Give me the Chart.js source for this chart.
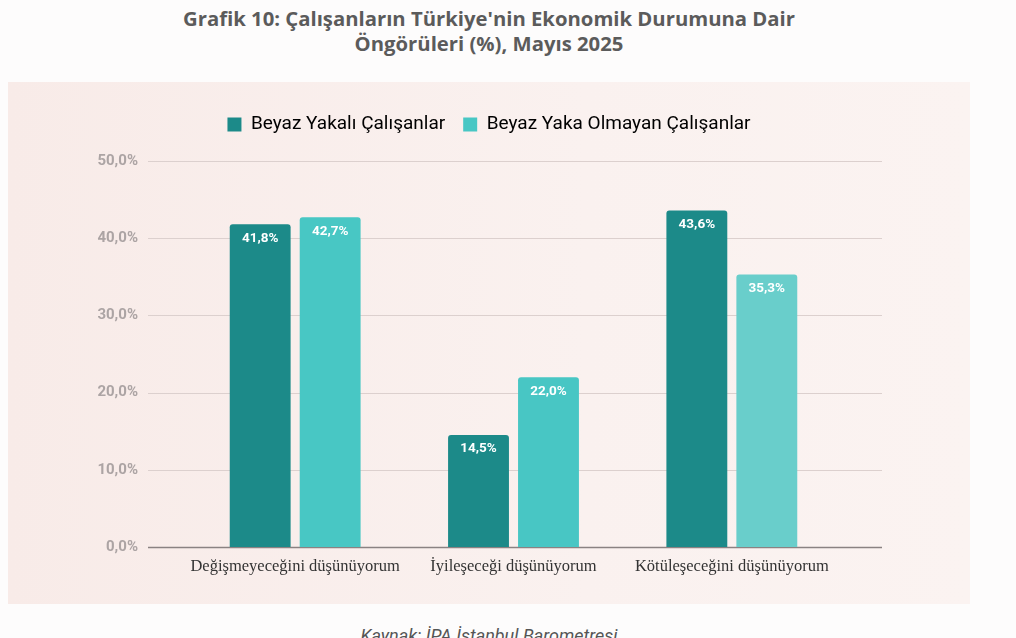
<!DOCTYPE html>
<html>
<head>
<meta charset="utf-8">
<script src="https://cdn.jsdelivr.net/npm/chart.js@4.4.1/dist/chart.umd.min.js"></script>
<style>
  html, body { margin: 0; padding: 0; background: #fdfcfc; overflow: hidden; }
  body { width: 1016px; height: 638px; position: relative; }
  #title {
    position: absolute; left: 0; top: 6px; width: 978px; text-align: center;
    font-family: "Open Sans", Lato, sans-serif; font-weight: 700; font-size: 20.3px;
    line-height: 25px; color: #5b5b5b;
  }
  #panel {
    position: absolute; left: 8px; top: 82px; width: 962px; height: 522px;
    background: linear-gradient(90deg, #f8ebe8 0%, #faf1ef 60%, #fbf3f1 100%);
  }
  #source {
    position: absolute; left: 0; top: 625px; width: 978px; text-align: center;
    font-family: Roboto, sans-serif; font-style: italic; font-size: 18px; color: #555;
  }
</style>
</head>
<body>
<div id="title">Grafik 10: Çalışanların Türkiye'nin Ekonomik Durumuna Dair<br>Öngörüleri (%), Mayıs 2025</div>
<div id="panel"><canvas id="chart" width="962" height="522"></canvas></div>
<div id="source">Kaynak: İPA İstanbul Barometresi</div>
<script>
const categories = ["Değişmeyeceğini düşünüyorum", "İyileşeceği düşünüyorum", "Kötüleşeceğini düşünüyorum"];
const beyazYakali = [41.8, 14.5, 43.6];
const beyazYakaOlmayan = [42.7, 22.0, 35.3];
const seriesNames = ["Beyaz Yakalı Çalışanlar", "Beyaz Yaka Olmayan Çalışanlar"];
const yTicks = [0, 10, 20, 30, 40, 50];

function fmt(v) {
  return v.toFixed(1).replace(".", ",") + "%";
}

// horizontal grid + base line, wider than the bar area
const gridPlugin = {
  id: "wideGrid",
  beforeDatasetsDraw(chart) {
    const ctx = chart.ctx;
    const y = chart.scales.y;
    const left = chart.chartArea.left - 38;
    const right = chart.chartArea.right + 41;
    ctx.save();
    y.ticks.forEach(t => {
      const py = Math.round(y.getPixelForValue(t.value)) + 0.5;
      ctx.beginPath();
      if (t.value === 0) {
        ctx.strokeStyle = "#8a8282";
        ctx.lineWidth = 1.6;
      } else {
        ctx.strokeStyle = "#dcd0ce";
        ctx.lineWidth = 1;
      }
      ctx.moveTo(left, py);
      ctx.lineTo(right, py);
      ctx.stroke();
    });
    ctx.restore();
  }
};

// extra room under the legend, and center it on the whole canvas
const legendGap = {
  id: "legendGap",
  beforeInit(chart) {
    const fit = chart.legend.fit;
    chart.legend.fit = function () {
      fit.call(this);
      this.height += 17;
    };
  },
  afterLayout(chart) {
    const l = chart.legend;
    l.left = 0;
    l.right = chart.width;
    l.width = chart.width;
    l.adjustHitBoxes();
  }
};

// value labels inside bar tops
const labelPlugin = {
  id: "barLabels",
  afterDatasetsDraw(chart) {
    const ctx = chart.ctx;
    ctx.save();
    ctx.font = "bold 13.5px Roboto, sans-serif";
    ctx.fillStyle = "#ffffff";
    ctx.textAlign = "center";
    ctx.textBaseline = "middle";
    chart.data.datasets.forEach((ds, i) => {
      chart.getDatasetMeta(i).data.forEach((bar, j) => {
        ctx.fillText(fmt(ds.data[j]), bar.x, bar.y + 14);
      });
    });
    ctx.restore();
  }
};

new Chart(document.getElementById("chart"), {
  type: "bar",
  data: {
    labels: categories,
    datasets: [
      {
        label: seriesNames[0],
        data: beyazYakali,
        backgroundColor: "#1c8a89",
        borderRadius: { topLeft: 3, topRight: 3 },
        borderSkipped: "bottom"
      },
      {
        label: seriesNames[1],
        data: beyazYakaOlmayan,
        backgroundColor: ["#48c7c4", "#48c6c4", "#69cecb"],
        borderRadius: { topLeft: 3, topRight: 3 },
        borderSkipped: "bottom"
      }
    ]
  },
  options: {
    responsive: false,
    animation: false,
    layout: { padding: { left: 88, right: 129, top: 15, bottom: 24 } },
    categoryPercentage: 0.641,
    barPercentage: 0.87,
    plugins: {
      legend: {
        position: "top",
        labels: {
          boxWidth: 14,
          boxHeight: 14,
          padding: 18,
          color: "#555",
          font: { family: "Roboto, sans-serif", size: 19 },
          generateLabels(chart) {
            return chart.data.datasets.map((ds, i) => ({
              text: ds.label,
              fillStyle: i === 0 ? "#1c8a89" : "#48c7c4",
              strokeStyle: "transparent",
              lineWidth: 0,
              datasetIndex: i
            }));
          }
        }
      },
      tooltip: { enabled: false }
    },
    scales: {
      x: {
        afterFit(scale) { scale.height = 30; },
        grid: { display: false, drawTicks: false },
        border: { display: false },
        ticks: {
          color: "#333",
          padding: 10,
          maxRotation: 0,
          autoSkip: false,
          font: { family: "'Liberation Serif', serif", size: 16.5 }
        }
      },
      y: {
        min: 0,
        max: 50,
        afterFit(scale) { scale.width = 90; },
        afterBuildTicks(scale) { scale.ticks = yTicks.map(v => ({ value: v })); },
        grid: { display: false, drawTicks: false },
        border: { display: false },
        ticks: {
          padding: 48,
          color: "#aca4a4",
          font: { family: "Roboto, sans-serif", size: 15, weight: "bold" },
          callback: v => fmt(v)
        }
      }
    }
  },
  plugins: [gridPlugin, legendGap, labelPlugin]
});
</script>
</body>
</html>
